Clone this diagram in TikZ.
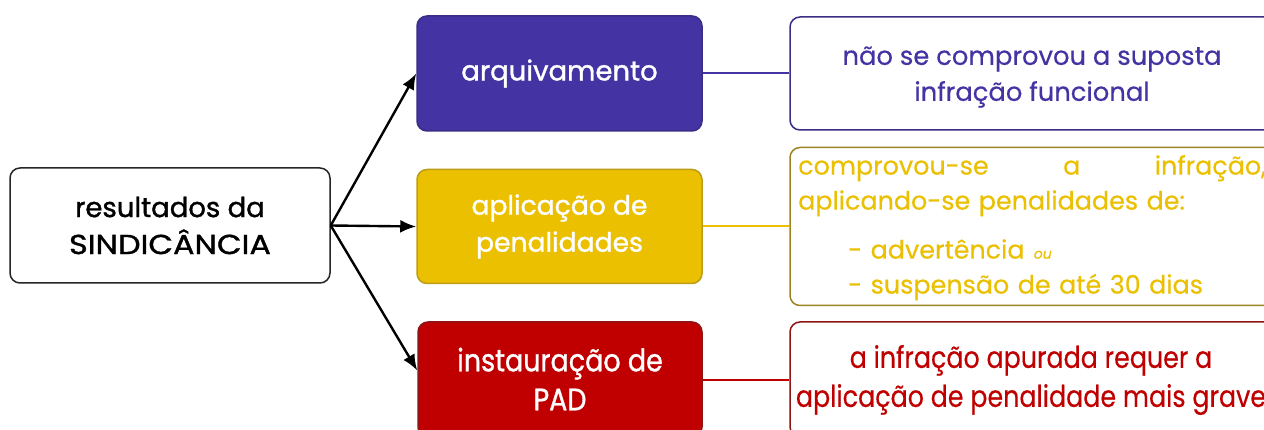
\documentclass[tikz,border=0pt]{standalone}
\usepackage{fontspec}
\setmainfont{Poppins}
\newfontfamily\medfont[FakeBold=1.2]{Poppins}
\newfontfamily\widemed[FakeBold=1.2,FakeStretch=1.16]{Poppins}
\newfontfamily\condmed[FakeBold=1.0,FakeStretch=0.87]{Poppins}
\newfontfamily\condreg[FakeBold=0.4,FakeStretch=0.845]{Poppins}
\newfontfamily\regfont[FakeBold=0.4]{Poppins}
\newfontfamily\slfont[FakeSlant=0.2,FakeBold=0.3]{Poppins}
\usetikzlibrary{calc,arrows.meta}
\definecolor{cpurple}{HTML}{4333A3}
\definecolor{cpurpleline}{HTML}{3A2D85}
\definecolor{cyellow}{HTML}{EBC000}
\definecolor{cyellowline}{HTML}{9C8520}
\definecolor{cred}{HTML}{C00000}
\definecolor{credline}{HTML}{8E1515}
\begin{document}
\begin{tikzpicture}[x=1pt,y=-1pt,
  basebox/.style={rounded corners=10pt, line width=1.5pt, align=center, inner sep=0pt},
  bigtext/.style={font=\medfont\fontsize{27.5}{37}\selectfont},
  smalltext/.style={font=\regfont\fontsize{25.8}{36}\selectfont},
  arr/.style={-{Latex[length=16pt,width=13pt]}, line width=2.4pt, black},
  link/.style={line width=2pt}
]
\useasboundingbox (0,0) rectangle (1264,430);
\clip (0,0) rectangle (1264,430);
\fill[white] (0,0) rectangle (1264,430);

% left node
\node[basebox, draw=black!85, fill=white, bigtext, minimum width=320pt, minimum height=115pt] (res) at (170,225.5) {resultados da\\{\widemed SINDICÂNCIA}};

% middle nodes
\node[basebox, draw=cpurpleline, fill=cpurple, text=white, bigtext, minimum width=285pt, minimum height=115pt] (arq) at (559.5,73.5) {arquivamento};
\node[basebox, draw=cyellowline!60!cyellow, fill=cyellow, text=white, bigtext, font=\medfont\fontsize{26.6}{37}\selectfont, minimum width=285pt, minimum height=114pt] (apl) at (559.5,226.5) {aplicação de\\penalidades};
\node[basebox, draw=credline, fill=cred, text=white, font=\condmed\fontsize{31}{39}\selectfont, minimum width=284pt, minimum height=115pt] (ins) at (560,379.5) {\raisebox{1pt}{instauração de}\\\raisebox{1pt}{PAD}};

% right nodes
\node[basebox, draw=cpurpleline, fill=white, minimum width=484pt, minimum height=113pt] (rarq) at (1032,73.5) {};
\node[text=cpurple, smalltext, align=center] (tarq) at (1032,77) {não se comprovou a suposta\\infração funcional};

\node[basebox, draw=cyellowline, fill=white, minimum width=484pt, minimum height=158pt] (rapl) at (1032,226.5) {};
\node[text=cyellow, font=\regfont\fontsize{25.4}{35}\selectfont, anchor=north west, text width=468pt, align=left, inner sep=0pt] (tapl) at (798,155)
  {comprovou-se\hfill a\hfill infração,\\
   aplicando-se penalidades de:\\[14pt]
   \hspace*{50pt}- advertência {\slfont\fontsize{14}{14}\selectfont ou}\\
   \hspace*{50pt}- suspensão de até 30 dias};

\node[basebox, draw=credline, fill=white, minimum width=484pt, minimum height=115pt] (rins) at (1032,379.5) {};
\node[text=cred, font=\condreg\fontsize{30}{39}\selectfont, align=center] (tins) at (1031,380) {a infração apurada requer a\\aplicação de penalidade mais grave};

% connectors
\draw[arr] (res.east) -- (arq.west);
\draw[arr] (res.east) -- (apl.west);
\draw[arr] (res.east) -- ($(ins.west)+(0,-9)$);
\draw[link, draw=cpurple] (arq.east) -- (rarq.west);
\draw[link, draw=cyellow] (apl.east) -- (rapl.west);
\draw[link, draw=cred] (ins.east) -- (rins.west);
\end{tikzpicture}
\end{document}
